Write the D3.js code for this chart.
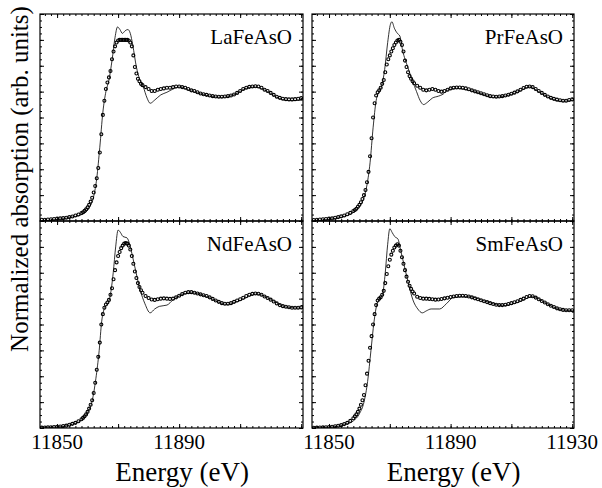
<!DOCTYPE html>
<html>
<head>
<meta charset="utf-8">
<script src="https://cdn.jsdelivr.net/npm/d3@7"></script>
<style>
  body { margin: 0; background: #fff; }
</style>
</head>
<body>
<div id="chart"></div>
<script>
// measured energy points (eV), shared by the four data sets
const energy = [
  11845, 11846, 11847, 11848, 11849, 11850, 11851, 11852, 11853, 11854, 11855, 11856, 11857, 11858,
  11858.5, 11859, 11859.5, 11860, 11860.5, 11861, 11861.5, 11862, 11862.5, 11863,
  11863.5, 11864, 11864.5, 11865, 11865.5, 11866, 11866.5, 11867, 11867.5, 11868,
  11868.5, 11869, 11869.5, 11870, 11870.5, 11871, 11871.5, 11872, 11872.5, 11873,
  11873.5, 11874, 11874.5, 11875, 11875.5, 11876, 11876.5, 11877, 11877.5, 11878,
  11879, 11880, 11881, 11882, 11883, 11884, 11885, 11886, 11887, 11888,
  11889, 11890, 11891, 11892, 11893, 11894, 11895, 11896, 11897, 11898,
  11899, 11900, 11901, 11902, 11903, 11904, 11905, 11906, 11907, 11908,
  11909, 11910, 11911, 11912, 11913, 11914, 11915, 11916, 11917, 11918,
  11919, 11920, 11921, 11922, 11923, 11924, 11925, 11926, 11927, 11928,
  11929, 11930
];

// experimental spectra (open circles)
const laExp = [
  0.010, 0.010, 0.012, 0.014, 0.016, 0.018, 0.020, 0.022, 0.025, 0.030, 0.035, 0.042, 0.050, 0.062,
  0.068, 0.078, 0.090, 0.105, 0.125, 0.150, 0.180, 0.220, 0.270, 0.330,
  0.410, 0.530, 0.670, 0.820, 0.930, 1.020, 1.070, 1.110, 1.160, 1.250,
  1.310, 1.350, 1.380, 1.395, 1.400, 1.400, 1.400, 1.400, 1.400, 1.400,
  1.395, 1.380, 1.350, 1.280, 1.190, 1.140, 1.100, 1.080, 1.060, 1.050,
  1.035, 1.020, 1.005, 1.005, 1.015, 1.020, 1.025, 1.030, 1.030, 1.035,
  1.040, 1.040, 1.035, 1.030, 1.020, 1.010, 1.005, 0.995, 0.985, 0.980,
  0.975, 0.970, 0.965, 0.962, 0.960, 0.960, 0.962, 0.965, 0.970, 0.978,
  0.990, 1.005, 1.020, 1.030, 1.037, 1.040, 1.042, 1.040, 1.030, 1.015,
  1.005, 0.990, 0.975, 0.960, 0.952, 0.945, 0.942, 0.940, 0.940, 0.942,
  0.945, 0.950
];
const prExp = [
  0.008, 0.010, 0.012, 0.014, 0.016, 0.018, 0.020, 0.025, 0.030, 0.036, 0.043, 0.052, 0.063, 0.077,
  0.085, 0.095, 0.110, 0.125, 0.145, 0.170, 0.200, 0.240, 0.300, 0.380,
  0.500, 0.640, 0.800, 0.910, 0.970, 0.995, 1.010, 1.030, 1.060, 1.090,
  1.150, 1.210, 1.250, 1.280, 1.310, 1.335, 1.360, 1.380, 1.395, 1.400,
  1.385, 1.360, 1.310, 1.240, 1.190, 1.150, 1.120, 1.100, 1.080, 1.065,
  1.045, 1.030, 1.015, 1.010, 1.015, 1.020, 1.015, 1.005, 1.000, 1.005,
  1.015, 1.025, 1.030, 1.032, 1.032, 1.030, 1.025, 1.018, 1.010, 1.002,
  0.995, 0.987, 0.980, 0.972, 0.965, 0.962, 0.960, 0.962, 0.965, 0.970,
  0.976, 0.983, 0.992, 1.002, 1.015, 1.028, 1.038, 1.040, 1.035, 1.020,
  1.005, 0.990, 0.975, 0.962, 0.952, 0.944, 0.938, 0.933, 0.930, 0.930,
  0.935, 0.940
];
const ndExp = [
  0.003, 0.004, 0.005, 0.006, 0.008, 0.010, 0.012, 0.015, 0.018, 0.025, 0.032, 0.040, 0.052, 0.068,
  0.078, 0.090, 0.105, 0.125, 0.150, 0.180, 0.215, 0.270, 0.350, 0.450,
  0.550, 0.660, 0.800, 0.880, 0.930, 0.955, 0.970, 0.990, 1.030, 1.080,
  1.150, 1.220, 1.280, 1.330, 1.360, 1.390, 1.410, 1.425, 1.430, 1.425,
  1.410, 1.380, 1.330, 1.270, 1.210, 1.160, 1.120, 1.090, 1.065, 1.045,
  1.020, 1.005, 0.993, 0.990, 0.995, 1.000, 1.002, 1.000, 0.998, 1.000,
  1.010, 1.022, 1.035, 1.045, 1.050, 1.050, 1.045, 1.040, 1.033, 1.026,
  1.020, 1.010, 0.998, 0.985, 0.975, 0.965, 0.960, 0.960, 0.965, 0.975,
  0.985, 0.995, 1.007, 1.020, 1.030, 1.037, 1.040, 1.038, 1.030, 1.017,
  1.005, 0.992, 0.978, 0.963, 0.950, 0.942, 0.937, 0.933, 0.930, 0.930,
  0.930, 0.932
];
const smExp = [
  0.002, 0.003, 0.004, 0.005, 0.006, 0.008, 0.010, 0.013, 0.017, 0.022, 0.030, 0.040, 0.055, 0.075,
  0.090, 0.105, 0.125, 0.150, 0.180, 0.215, 0.255, 0.330, 0.420, 0.520,
  0.620, 0.710, 0.800, 0.880, 0.950, 0.985, 1.000, 1.010, 1.030, 1.060,
  1.120, 1.190, 1.250, 1.300, 1.340, 1.370, 1.395, 1.410, 1.420, 1.410,
  1.370, 1.320, 1.270, 1.220, 1.170, 1.130, 1.100, 1.075, 1.055, 1.040,
  1.015, 1.005, 1.000, 1.000, 0.998, 0.995, 0.992, 0.993, 0.997, 1.002,
  1.007, 1.012, 1.017, 1.020, 1.022, 1.022, 1.020, 1.016, 1.010, 1.002,
  0.995, 0.988, 0.980, 0.973, 0.965, 0.958, 0.953, 0.950, 0.950, 0.953,
  0.958, 0.965, 0.972, 0.980, 0.990, 1.000, 1.012, 1.020, 1.018, 1.008,
  0.995, 0.982, 0.970, 0.957, 0.945, 0.935, 0.925, 0.918, 0.913, 0.910,
  0.910, 0.910
];

// calculated spectra (thin line), [energy, value]
const laCalc = [[11844.5,0.0],[11850,0.012],[11855,0.03],[11858.5,0.055],[11860.5,0.10],[11862,0.19],
  [11863,0.33],[11864,0.57],[11865,0.84],[11866,1.0],[11867,1.09],[11868,1.24],[11869,1.42],[11869.8,1.50],
  [11870.6,1.48],[11871.4,1.45],[11872.3,1.47],[11873.2,1.48],[11874,1.45],[11874.8,1.36],[11876,1.19],
  [11877,1.10],[11878.2,1.04],[11879.5,0.95],[11880.5,0.91],[11882,0.935],[11884,0.975],[11886,0.995],
  [11888,1.02],[11890,1.035],[11894,1.005],[11900,0.965],[11904,0.955],[11908,0.975],[11912,1.025],
  [11915,1.035],[11919,1.0],[11923,0.945],[11927,0.93],[11930.6,0.935]];
const prCalc = [[11844.5,0.0],[11850,0.013],[11855,0.035],[11858,0.065],[11860,0.11],[11861.5,0.18],
  [11862.5,0.28],[11863.5,0.45],[11864.5,0.72],[11865.5,0.93],[11866.5,1.0],[11867.3,1.04],[11868.3,1.17],
  [11869.3,1.38],[11870.2,1.52],[11870.7,1.54],[11871.5,1.49],[11872.5,1.45],[11873.3,1.43],[11874.2,1.32],
  [11875.9,1.19],[11877.5,1.08],[11878.8,1.00],[11880,0.93],[11881.1,0.90],[11882.5,0.92],[11884,0.95],
  [11886,0.965],[11887.5,0.98],[11889,1.01],[11892,1.025],[11896,1.01],[11900,0.985],[11904,0.955],
  [11908,0.965],[11912,0.995],[11916,1.035],[11919,1.0],[11923,0.945],[11927,0.925],[11930.6,0.935]];
const ndCalc = [[11844.5,0.0],[11850,0.008],[11855,0.028],[11858,0.06],[11860,0.12],[11861.5,0.21],
  [11862.7,0.38],[11863.8,0.6],[11864.6,0.82],[11865.6,0.93],[11866.6,0.96],[11867.4,1.02],[11868.4,1.2],
  [11869.2,1.4],[11870,1.53],[11870.8,1.51],[11871.6,1.48],[11872.9,1.47],[11873.8,1.42],[11874.6,1.34],
  [11875.9,1.20],[11877.2,1.07],[11878.8,0.96],[11880.5,0.89],[11882,0.92],[11883.5,0.94],[11886,0.95],
  [11888,0.99],[11890,1.02],[11894,1.045],[11899,1.015],[11905.7,0.955],[11910,0.985],[11915.5,1.035],
  [11920,0.995],[11925,0.935],[11930.6,0.925]];
const smCalc = [[11844.5,0.0],[11850,0.006],[11855,0.025],[11858,0.055],[11860,0.11],[11861.5,0.2],
  [11862.7,0.36],[11863.8,0.6],[11864.8,0.82],[11865.8,0.96],[11866.8,1.0],[11867.6,1.03],[11868.5,1.2],
  [11869.3,1.42],[11870,1.54],[11870.8,1.51],[11871.6,1.48],[11872.7,1.46],[11873.5,1.38],[11874.3,1.30],
  [11876,1.13],[11877.6,0.99],[11879.2,0.92],[11880.7,0.89],[11882,0.905],[11883.6,0.92],[11886.4,0.92],
  [11888.6,0.96],[11891,1.01],[11896,1.015],[11902,0.975],[11907,0.945],[11912.6,0.975],[11917,1.015],
  [11921.4,0.965],[11926,0.915],[11930.6,0.905]];

const panelNames = ["LaFeAsO", "PrFeAsO", "NdFeAsO", "SmFeAsO"];
const xTickLabelsLeft = [11850, 11890];
const xTickLabelsRight = [11850, 11890, 11930];
const xMajorTicks = [11850, 11870, 11890, 11910, 11930];
const xMinorTicks = d3.range(11846, 11931, 2);
const yMajorTicks = [0, 0.2, 0.4, 0.6, 0.8, 1.0, 1.2, 1.4, 1.6];
const yMinorTicks = d3.range(0, 1.601, 0.05);

const W = 602, H = 488;
const colX = [[40, 303], [312, 574]];
const rowY = [[14, 221], [221, 428]];
const xDomain = [11844.4, 11930.6];
const yDomain = [0, 1.6];

const panels = [
  {name: panelNames[0], col: 0, row: 0, exp: laExp, calc: laCalc},
  {name: panelNames[1], col: 1, row: 0, exp: prExp, calc: prCalc},
  {name: panelNames[2], col: 0, row: 1, exp: ndExp, calc: ndCalc},
  {name: panelNames[3], col: 1, row: 1, exp: smExp, calc: smCalc}
];

const svg = d3.select("#chart")
    .append("svg")
    .attr("width", W)
    .attr("height", H)
    .style("font-family", "'Liberation Serif', 'Times New Roman', serif");

svg.append("rect").attr("width", W).attr("height", H).attr("fill", "#fff");

panels.forEach((p, i) => {
    const [x0, x1] = colX[p.col];
    const [y0, y1] = rowY[p.row];
    const x = d3.scaleLinear().domain(xDomain).range([x0, x1]);
    const y = d3.scaleLinear().domain(yDomain).range([y1, y0]);
    const g = svg.append("g");

    g.append("clipPath").attr("id", "clip" + i)
        .append("rect")
        .attr("x", x0).attr("y", y0)
        .attr("width", x1 - x0).attr("height", y1 - y0);

    const plot = g.append("g").attr("clip-path", `url(#clip${i})`);

    // calculated curve
    plot.append("path")
        .datum(p.calc)
        .attr("fill", "none")
        .attr("stroke", "#000")
        .attr("stroke-width", 0.8)
        .attr("d", d3.line()
            .x(d => x(d[0]))
            .y(d => y(d[1]))
            .curve(d3.curveMonotoneX));

    // experimental points
    plot.selectAll("circle")
        .data(p.exp)
        .enter()
        .append("circle")
        .attr("cx", (d, k) => x(energy[k]))
        .attr("cy", d => y(d))
        .attr("r", 1.5)
        .attr("fill", "none")
        .attr("stroke", "#000")
        .attr("stroke-width", 1.1);

    // inward ticks on all four sides
    const addAxis = (axis, tr) => g.append("g")
        .attr("transform", tr)
        .call(axis)
        .call(s => s.select(".domain").remove())
        .call(s => s.selectAll("line").attr("stroke", "#000"))
        .call(s => s.selectAll("text").remove());

    addAxis(d3.axisBottom(x).tickValues(xMinorTicks).tickSize(-2), `translate(0,${y1})`);
    addAxis(d3.axisBottom(x).tickValues(xMajorTicks).tickSize(-4), `translate(0,${y1})`);
    addAxis(d3.axisTop(x).tickValues(xMinorTicks).tickSize(-2), `translate(0,${y0})`);
    addAxis(d3.axisTop(x).tickValues(xMajorTicks).tickSize(-4), `translate(0,${y0})`);
    addAxis(d3.axisLeft(y).tickValues(yMinorTicks).tickSize(-2), `translate(${x0},0)`);
    addAxis(d3.axisLeft(y).tickValues(yMajorTicks).tickSize(-4), `translate(${x0},0)`);
    addAxis(d3.axisRight(y).tickValues(yMinorTicks).tickSize(-2), `translate(${x1},0)`);
    addAxis(d3.axisRight(y).tickValues(yMajorTicks).tickSize(-4), `translate(${x1},0)`);

    g.append("rect")
        .attr("x", x0).attr("y", y0)
        .attr("width", x1 - x0).attr("height", y1 - y0)
        .attr("fill", "none")
        .attr("stroke", "#000")
        .attr("stroke-width", 1.2);

    g.append("text")
        .attr("x", x1 - 11)
        .attr("y", y0 + 30)
        .attr("text-anchor", "end")
        .attr("font-size", "21px")
        .text(p.name);

    if (p.row === 1) {
        const labels = p.col === 0 ? xTickLabelsLeft : xTickLabelsRight;
        labels.forEach(v => {
            g.append("text")
                .attr("x", x(v))
                .attr("y", y1 + 21)
                .attr("text-anchor", "middle")
                .attr("font-size", "21px")
                .text(v);
        });
        g.append("text")
            .attr("x", x(11891))
            .attr("y", y1 + 53)
            .attr("text-anchor", "middle")
            .attr("font-size", "27px")
            .text("Energy (eV)");
    }
});

svg.append("text")
    .attr("transform", "translate(28,179) rotate(-90)")
    .attr("text-anchor", "middle")
    .attr("font-size", "25px")
    .text("Normalized absorption (arb. units)");
</script>
</body>
</html>
